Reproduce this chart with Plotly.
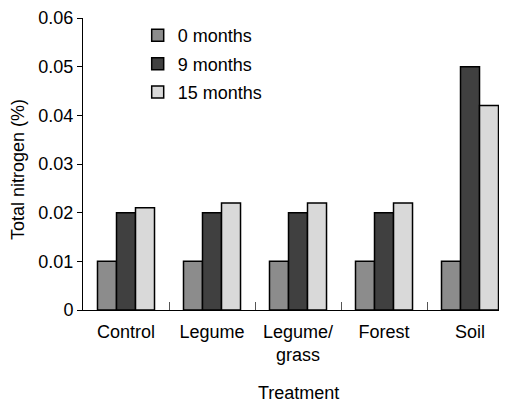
import plotly.graph_objects as go

treatments = ["Control", "Legume", "Legume/<br>grass", "Forest", "Soil"]
months_0 = [0.01, 0.01, 0.01, 0.01, 0.01]
months_9 = [0.02, 0.02, 0.02, 0.02, 0.05]
months_15 = [0.021, 0.022, 0.022, 0.022, 0.042]

series = [
    ("0 months", months_0, "#8c8c8c"),
    ("9 months", months_9, "#404040"),
    ("15 months", months_15, "#d9d9d9"),
]

fig = go.Figure()
for i, (name, vals, color) in enumerate(series):
    fig.add_trace(go.Bar(
        x=treatments, y=vals, name=name,
        marker=dict(color=color, line=dict(color="black", width=1.5)),
        legendgroup=f"g{i}",
    ))

family = "Liberation Sans, Arial, sans-serif"
font = dict(family=family, size=18, color="black")

# page body adds an 8px margin, so the figure is sized 8px short of the window
fig.update_layout(
    width=499, height=399,
    barmode="group", bargap=0.337, bargroupgap=0,
    plot_bgcolor="white", paper_bgcolor="white",
    font=font,
    margin=dict(l=75, r=0, t=10, b=97),
    legend=dict(x=0.129, y=1.003, xanchor="left", yanchor="top",
                tracegroupgap=2, bgcolor="rgba(0,0,0,0)", font=font),
    xaxis=dict(
        range=[-0.5, 4.43], showline=True, linecolor="black", linewidth=1,
        ticks="inside", tickson="boundaries", ticklen=8, tickcolor="#555555",
        ticklabelstandoff=5, showgrid=False, automargin=False,
    ),
    yaxis=dict(
        range=[0, 0.06], dtick=0.01, showline=True, linecolor="black", linewidth=1,
        ticks="outside", ticklen=5, tickcolor="black", showgrid=False, zeroline=False,
        automargin=False, ticklabeloverflow="allow",
    ),
)

# axis titles placed as annotations to pin their positions
fig.add_annotation(
    text="Total nitrogen (%)", textangle=-90, showarrow=False,
    xref="paper", yref="paper", x=-0.153, y=0.48,
    xanchor="center", yanchor="middle", font=dict(family=family, size=18, color="black"),
)
fig.add_annotation(
    text="Treatment", showarrow=False,
    xref="paper", yref="paper", x=0.508, y=-0.284,
    xanchor="center", yanchor="middle", font=font,
)

fig.write_html("out.html")
